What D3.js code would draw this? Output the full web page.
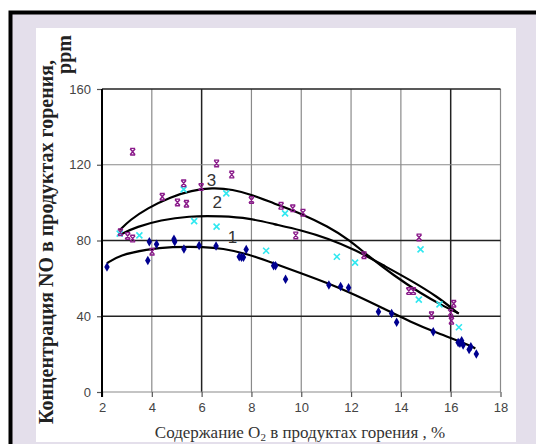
<!DOCTYPE html>
<html>
<head>
<meta charset="utf-8">
<script src="https://cdn.jsdelivr.net/npm/d3@7"></script>
<style>
  body { margin: 0; background: #fff; }
  svg { display: block; }
</style>
</head>
<body>
<svg width="536" height="444"></svg>
<script>
// points: [O2 %, NO ppm]
const series1 = [
  [2.2, 66], [3.84, 69.5], [3.9, 79.4], [4.19, 78], [4.89, 80.6], [4.92, 79.4],
  [5.29, 75.5], [5.9, 77.3], [6.58, 77.1], [7.51, 71.4], [7.6, 71.1], [7.68, 71.1],
  [7.79, 75.3], [8.89, 66.7], [8.97, 66.7], [9.37, 59.5], [11.11, 56.5], [11.58, 55.7],
  [11.9, 55], [13.1, 42.4], [13.63, 41.5], [13.83, 36.8], [15.3, 31.8], [16.3, 26.2],
  [16.44, 27.1], [16.37, 25.7], [16.5, 24.8], [16.74, 22.5], [16.81, 23.9], [17.03, 20.1]
];
const series2 = [
  [2.71, 83.6], [3.5, 82.7], [5.28, 107], [5.7, 90.2], [6.6, 87.3], [6.99, 104.9],
  [8.59, 74.6], [9.35, 94.3], [11.43, 71.4], [12.16, 68.3], [14.79, 75.3], [14.72, 48.8],
  [15.55, 46.3], [16.33, 34.2]
];
const series3 = [
  [2.74, 84.4], [3.03, 82.4], [3.23, 81], [3.23, 126.9], [4.01, 74.1], [4.42, 103.1],
  [5.03, 100.1], [5.28, 110.2], [5.39, 99.4], [5.98, 108.2], [6.6, 120.7], [7.21, 114.8],
  [8.0, 101.4], [9.19, 98.3], [9.66, 97], [9.78, 82.7], [10.07, 94.7], [12.52, 72.2],
  [14.73, 81.6], [14.32, 53.3], [14.5, 53.3], [15.23, 40.5], [16.03, 37.6], [16.0, 41.9],
  [16.12, 46.6]
];
// trend curves
const curve1 = [
  [2.2, 68], [2.71, 72.3], [3.8, 75.3], [4.77, 76.7], [6.14, 76.7], [6.83, 75.8],
  [7.79, 73.2], [8.89, 68], [9.99, 62.7], [11.08, 57.4], [12.18, 51.2], [13.28, 44.2],
  [14.38, 37.1], [15.48, 31], [16.58, 25.7], [16.99, 23]
];
const curve2 = [
  [2.74, 83.2], [3.4, 87.3], [4.36, 90.8], [5.45, 92.9], [6.83, 92.9], [7.93, 91.7],
  [8.89, 88.7], [9.99, 85.5], [11.08, 81.1], [12.18, 75], [13.28, 67], [14.38, 59.1],
  [15.48, 50.3], [16.3, 41.5]
];
const curve3 = [
  [2.71, 85.5], [3.12, 90.8], [3.81, 97], [4.77, 103.1], [5.59, 106.3], [6.42, 107.9],
  [7.24, 107], [8.06, 104], [8.89, 99.6], [9.99, 94.3], [11.08, 87.3], [11.9, 80.6],
  [12.73, 71.4], [13.69, 61.8], [14.79, 52.1], [15.75, 45], [16.33, 41.5]
];
const curveLabels = [
  { text: '1', x: 7.24, y: 81.7 },
  { text: '2', x: 6.63, y: 100.5 },
  { text: '3', x: 6.4, y: 112 }
];
const xTicks = [2, 4, 6, 8, 10, 12, 14, 16, 18];
const yTicks = [0, 40, 80, 120, 160];
const darkX = [6, 16];
const darkY = [40, 80, 160];

const svg = d3.select('svg');

// frame: white page, black border, lavender board, white panel
svg.append('rect').attr('width', 536).attr('height', 444).attr('fill', '#fff');
svg.append('rect')
  .attr('x', 10.5).attr('y', 12.5).attr('width', 600).attr('height', 500)
  .attr('fill', '#e4dfeb').attr('stroke', '#000').attr('stroke-width', 4);
svg.append('rect')
  .attr('x', 36).attr('y', 28).attr('width', 480).attr('height', 414)
  .attr('fill', '#fff');

const x = d3.scaleLinear().domain([2, 18]).range([102, 500.5]);
const y = d3.scaleLinear().domain([0, 160]).range([392, 89]);

// grid
const grid = svg.append('g');
grid.selectAll('.gx').data(xTicks.slice(1)).join('line')
  .attr('x1', d => x(d)).attr('x2', d => x(d))
  .attr('y1', y(0)).attr('y2', y(160))
  .attr('stroke', d => darkX.includes(d) ? '#222' : '#8a8a8a')
  .attr('stroke-width', d => darkX.includes(d) ? 1.5 : 1.2);
grid.selectAll('.gy').data(yTicks).join('line')
  .attr('x1', x(2)).attr('x2', x(18))
  .attr('y1', d => y(d)).attr('y2', d => y(d))
  .attr('stroke', d => darkY.includes(d) ? '#222' : '#8a8a8a')
  .attr('stroke-width', d => darkY.includes(d) ? 1.5 : 1.2);

// axes
const xAxis = svg.append('g')
  .attr('transform', `translate(0,${y(0)})`)
  .call(d3.axisBottom(x).tickValues(xTicks).tickSize(5).tickPadding(6));
const yAxis = svg.append('g')
  .attr('transform', `translate(${x(2)},0)`)
  .call(d3.axisLeft(y).tickValues(yTicks).tickSize(5).tickPadding(6));
[xAxis, yAxis].forEach(a => {
  a.select('.domain').remove();
  a.selectAll('line').attr('stroke', '#555').attr('stroke-width', 1.2);
  a.selectAll('text')
    .attr('font-family', 'Liberation Sans, Arial, sans-serif')
    .attr('font-size', 13).attr('fill', '#444');
});
svg.append('line')
  .attr('x1', x(2)).attr('x2', x(2)).attr('y1', y(160)).attr('y2', y(0) + 5)
  .attr('stroke', '#000').attr('stroke-width', 2);

// curves
const line = d3.line().x(d => x(d[0])).y(d => y(d[1])).curve(d3.curveBasis);
svg.selectAll('.curve').data([curve1, curve2, curve3]).join('path')
  .attr('d', line).attr('fill', 'none')
  .attr('stroke', '#000').attr('stroke-width', 2.2);

// markers
svg.append('g').selectAll('path').data(series1).join('path')
  .attr('transform', d => `translate(${x(d[0])},${y(d[1])})`)
  .attr('d', d3.symbol(d3.symbolDiamond, 26))
  .attr('fill', '#000090');

const cyanCross = 'M-3,-3L3,3M3,-3L-3,3';
svg.append('g').selectAll('path').data(series2).join('path')
  .attr('transform', d => `translate(${x(d[0])},${y(d[1])})`)
  .attr('d', cyanCross).attr('fill', 'none')
  .attr('stroke', '#30e8f0').attr('stroke-width', 1.6);

const barCross = 'M-2.5,-3L2.5,3M2.5,-3L-2.5,3M-2.5,-3.3L2.5,-3.3M-2.5,3.3L2.5,3.3';
svg.append('g').selectAll('path').data(series3).join('path')
  .attr('transform', d => `translate(${x(d[0])},${y(d[1])})`)
  .attr('d', barCross).attr('fill', 'none')
  .attr('stroke', '#8a1a8a').attr('stroke-width', 1.4);

// curve numbers
svg.append('g').selectAll('text').data(curveLabels).join('text')
  .attr('x', d => x(d.x)).attr('y', d => y(d.y) + 6)
  .attr('text-anchor', 'middle')
  .attr('font-family', 'Liberation Sans, Arial, sans-serif')
  .attr('font-size', 17).attr('fill', '#333')
  .text(d => d.text);

// axis titles
const serif = 'Liberation Serif, Times New Roman, serif';
svg.append('text')
  .attr('transform', 'translate(53,242) rotate(-90)')
  .attr('text-anchor', 'middle')
  .attr('font-family', serif).attr('font-size', 20).attr('font-weight', 'bold')
  .attr('fill', '#222')
  .text('Концентрация NO в продуктах горения,');
svg.append('text')
  .attr('transform', 'translate(71,35) rotate(-90)')
  .attr('text-anchor', 'end')
  .attr('font-family', serif).attr('font-size', 20).attr('font-weight', 'bold')
  .attr('fill', '#222')
  .text('ppm');

const xt = svg.append('text')
  .attr('x', 300).attr('y', 438)
  .attr('text-anchor', 'middle')
  .attr('font-family', serif).attr('font-size', 17).attr('fill', '#333');
xt.append('tspan').text('Содержание O');
xt.append('tspan').attr('font-size', 11).attr('dy', 3).text('2');
xt.append('tspan').attr('dy', -3).text(' в продуктах горения , %');
</script>
</body>
</html>
